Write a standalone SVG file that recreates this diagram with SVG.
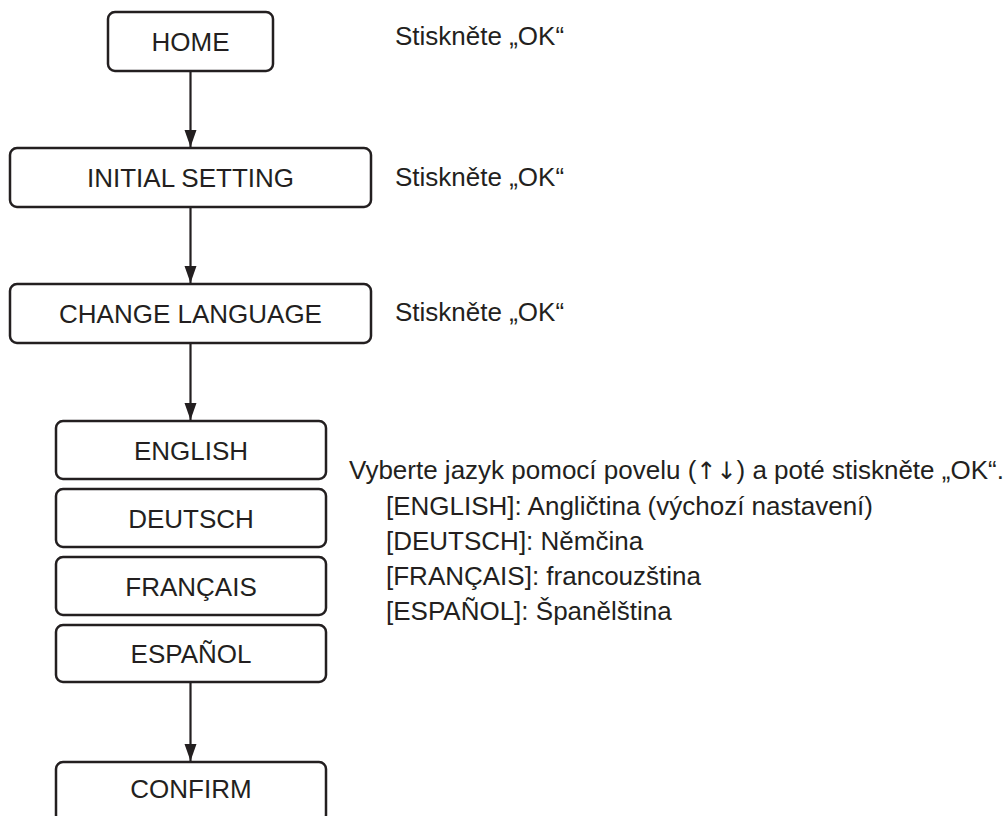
<svg xmlns="http://www.w3.org/2000/svg" width="1008" height="816" viewBox="0 0 1008 816">
<style>
.box{fill:#fff;stroke:#231f20;stroke-width:2.5}
.t{font-family:"Liberation Sans",Arial,sans-serif;font-size:26px;fill:#231f20}
.c{text-anchor:middle}
.ar{font-family:"DejaVu Sans",sans-serif;font-size:24px}
.ln{stroke:#231f20;stroke-width:2.2;fill:none}
</style>
<defs>
<marker id="ah" markerUnits="userSpaceOnUse" markerWidth="18" markerHeight="14" refX="17" refY="6" orient="auto">
<path d="M0,0 L17,6 L0,12 Z" fill="#231f20"/>
</marker>
</defs>
<rect width="1008" height="816" fill="#fff"/>
<g id="connectors">
<line class="ln" x1="190.5" y1="71" x2="190.5" y2="147" marker-end="url(#ah)"/>
<line class="ln" x1="190.5" y1="207" x2="190.5" y2="283" marker-end="url(#ah)"/>
<line class="ln" x1="190.5" y1="343" x2="190.5" y2="420" marker-end="url(#ah)"/>
<line class="ln" x1="190.5" y1="682" x2="190.5" y2="761" marker-end="url(#ah)"/>
</g>
<g id="home"><rect class="box" x="108" y="12" width="165" height="59" rx="7"/><text class="t c" x="190.5" y="51">HOME</text></g>
<g id="initial"><rect class="box" x="10" y="148" width="361" height="59" rx="7"/><text class="t c" x="190.5" y="187">INITIAL SETTING</text></g>
<g id="change"><rect class="box" x="10" y="284" width="361" height="59" rx="7"/><text class="t c" x="190.5" y="323">CHANGE LANGUAGE</text></g>
<g id="english"><rect class="box" x="56" y="421" width="270" height="58" rx="7"/><text class="t c" x="191" y="460">ENGLISH</text></g>
<g id="deutsch"><rect class="box" x="56" y="489" width="270" height="58" rx="7"/><text class="t c" x="191" y="528">DEUTSCH</text></g>
<g id="francais"><rect class="box" x="56" y="557" width="270" height="58" rx="7"/><text class="t c" x="191" y="596">FRANÇAIS</text></g>
<g id="espanol"><rect class="box" x="56" y="625" width="270" height="57" rx="7"/><text class="t c" x="191" y="663">ESPAÑOL</text></g>
<g id="confirm"><rect class="box" x="56" y="762" width="270" height="60" rx="7"/><text class="t c" x="191" y="798">CONFIRM</text></g>
<g id="notes">
<text class="t" x="395" y="45">Stiskněte „OK“</text>
<text class="t" x="395" y="186">Stiskněte „OK“</text>
<text class="t" x="395" y="321">Stiskněte „OK“</text>
<text class="t" x="349" y="479">Vyberte jazyk pomocí povelu (<tspan class="ar">↑↓</tspan>) a poté stiskněte „OK“.</text>
<text class="t" x="386" y="515">[ENGLISH]: Angličtina (výchozí nastavení)</text>
<text class="t" x="386" y="550">[DEUTSCH]: Němčina</text>
<text class="t" x="386" y="585">[FRANÇAIS]: francouzština</text>
<text class="t" x="386" y="620">[ESPAÑOL]: Španělština</text>
</g>
</svg>
